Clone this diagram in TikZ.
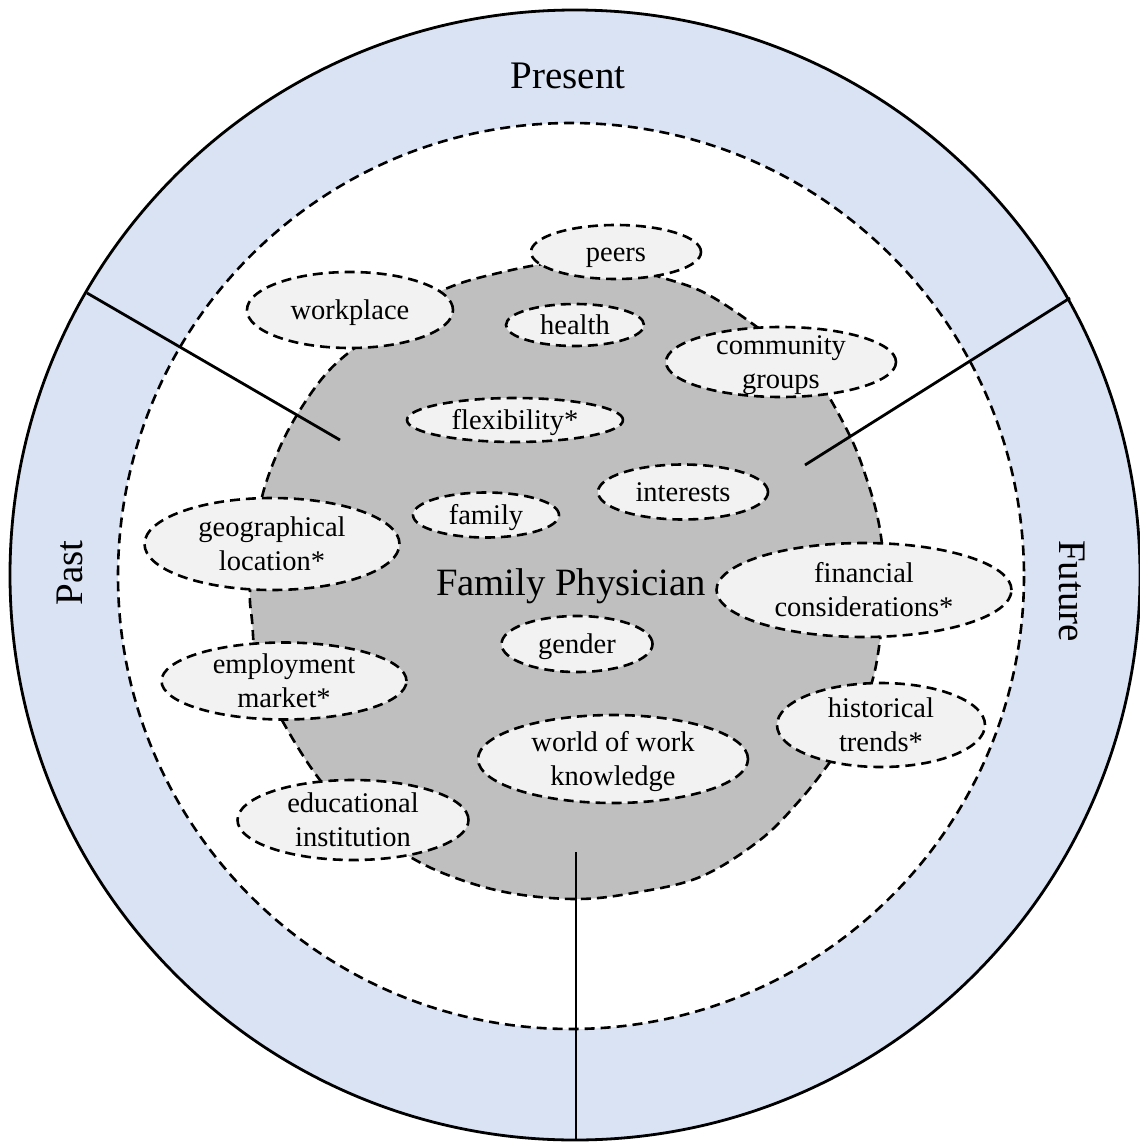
\documentclass[tikz,border=0pt]{standalone}
\usepackage{fontspec}
\setmainfont{Liberation Serif}
\usetikzlibrary{shapes.geometric}
\definecolor{ringblue}{HTML}{DAE3F3}
\definecolor{blobgray}{HTML}{BFBFBF}
\definecolor{ellfill}{HTML}{F2F2F2}
\newcommand{\ftext}[1]{\raisebox{-8.6pt}[0pt][0pt]{\begin{tabular}{@{}c@{}}#1\end{tabular}}}
\begin{document}
\begin{tikzpicture}[x=1pt,y=-1pt,
  dashline/.style={dash pattern=on 10pt off 6pt, line width=2.6pt},
  factor/.style={ellipse, draw, dashline, fill=ellfill, inner sep=0pt,
    font=\fontsize{28.5}{34}\selectfont},
  bigtext/.style={font=\fontsize{39}{42}\selectfont, inner sep=0pt},
  divider/.style={line width=2.8pt}]
\useasboundingbox (0,0) rectangle (1140,1143);
% rings
\draw[line width=2.8pt, fill=ringblue] (575,575) circle[radius=565];
\draw[dashline, fill=white] (571,576) circle[radius=453];
% central blob
\draw[dashline, fill=blobgray] plot[smooth cycle, tension=0.6] coordinates {
 (560,262) (620,266) (660,277) (705,293) (757,327) (810,370) (847,430) (867,480)
 (880,530) (885,590) (880,640) (872,682) (855,725) (830,762) (800,800) (760,840)
 (700,877) (633,893) (576,899) (510,893) (453,877) (407,855) (360,820) (320,780)
 (283,722) (258,670) (252,620) (250,592) (255,540) (263,493) (280,447) (300,410)
 (325,375) (352,350) (400,315) (443,290) (490,275)};
% dividers
\coordinate (pastouter) at (87,293);
\coordinate (pastinner) at (340,440);
\coordinate (futouter) at (1070,298);
\coordinate (futinner) at (805,465);
\coordinate (botouter) at (576,1140);
\coordinate (botinner) at (576,852);
\draw[divider] (pastouter) -- (pastinner);
\draw[divider] (futouter) -- (futinner);
\draw[divider] (botouter) -- (botinner);
% ring labels
\node[bigtext] (present) at (568,76) {Present};
\node[bigtext, rotate=90] (past) at (70,573) {Past};
\node[bigtext, rotate=-90] (future) at (1072,591) {Future};
\node[bigtext, font=\fontsize{38.7}{42}\selectfont] (fp) at (571,586) {Family Physician};
% factors
\node[factor, minimum width=170pt, minimum height=54pt] (peers) at (616,252) {\ftext{peers}};
\node[factor, minimum width=206pt, minimum height=76pt] (workplace) at (350,310) {\ftext{workplace}};
\node[factor, minimum width=138pt, minimum height=42pt] (health) at (575,325) {\ftext{health}};
\node[factor, minimum width=230pt, minimum height=70pt] (community) at (781,362) {\ftext{community\\groups}};
\node[factor, minimum width=216pt, minimum height=44pt] (flex) at (515,420) {\ftext{flexibility*}};
\node[factor, minimum width=170pt, minimum height=55pt] (interests) at (683,492) {\ftext{interests}};
\node[factor, minimum width=146pt, minimum height=45pt] (family) at (486,515) {\ftext{family}};
\node[factor, minimum width=255pt, minimum height=92pt] (geo) at (272,544) {\ftext{geographical\\location*}};
\node[factor, minimum width=295pt, minimum height=94pt] (fin) at (864,590) {\ftext{financial\\considerations*}};
\node[factor, minimum width=151pt, minimum height=56pt] (gender) at (577,644) {\ftext{gender}};
\node[factor, minimum width=245pt, minimum height=77pt] (employ) at (284,681) {\ftext{employment\\market*}};
\node[factor, minimum width=208pt, minimum height=84pt] (hist) at (881,725) {\ftext{historical\\trends*}};
\node[factor, minimum width=270pt, minimum height=88pt] (world) at (613,759) {\ftext{world of work\\knowledge}};
\node[factor, minimum width=231pt, minimum height=80pt] (edu) at (353,820) {\ftext{educational\\institution}};
\end{tikzpicture}
\end{document}
